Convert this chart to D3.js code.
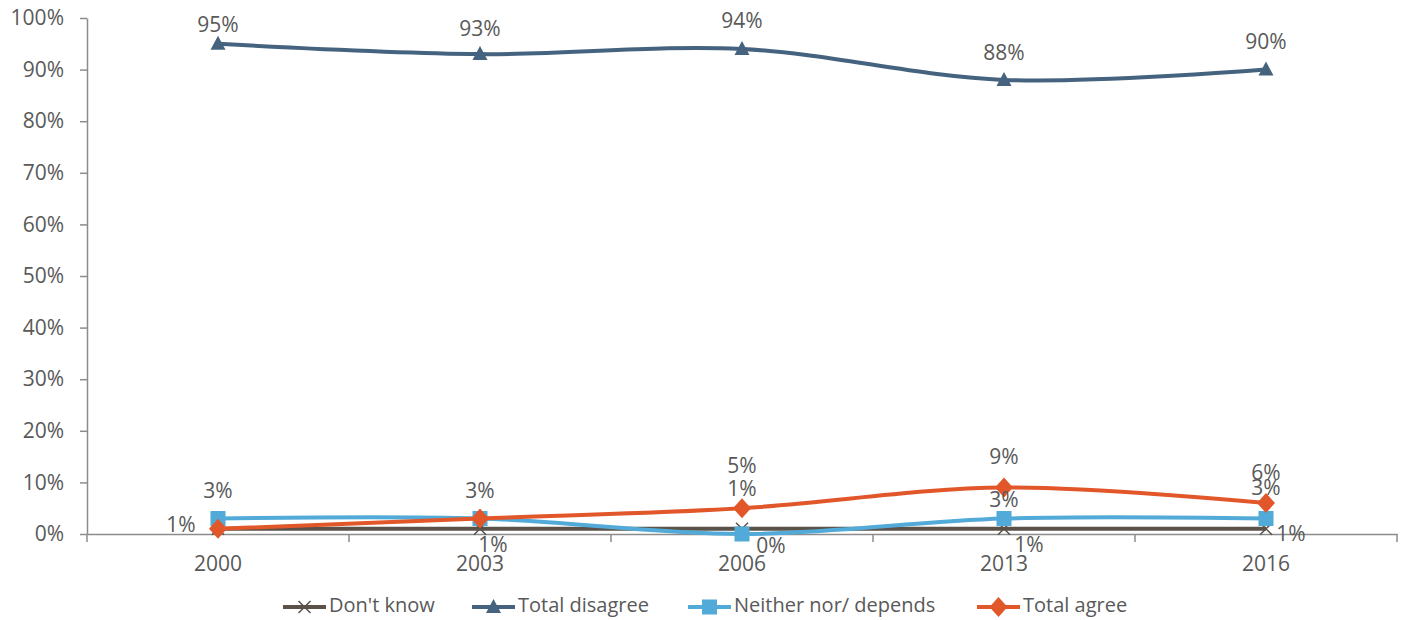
<!DOCTYPE html>
<html><head><meta charset="utf-8">
<script src="https://cdn.jsdelivr.net/npm/d3@7"></script>
<style>body{margin:0;background:#fff}svg{display:block}text{font-family:"Open Sans",Lato,sans-serif;fill:#595959}</style>
</head><body><svg id="c" width="1411" height="620"></svg>
<script>
const years = ["2000","2003","2006","2013","2016"];
const yTicks = [0,10,20,30,40,50,60,70,80,90,100];
const dontKnow = [1,1,1,1,1];
const totalDisagree = [95,93,94,88,90];
const neither = [3,3,0,3,3];
const totalAgree = [1,3,5,9,6];
const seriesNames = ["Don't know","Total disagree","Neither nor/ depends","Total agree"];
const seriesColors = ["#5a5148","#45637f","#52aad8","#e1572a"];
const seriesMarkers = ["x","triangle","square","diamond"];
const labelOffsets = [
  [[-37,-2],[13,18],[0,-38],[25,18],[25,7]],
  [[0,-17],[0,-24],[0,-27],[0,-26],[0,-26]],
  [[0,-26],[0,-26],[29,13],[0,-17],[0,-29]],
  [[0,0],[0,0],[0,-41],[0,-29],[0,-29]]
];
const showLabel = [
  [1,1,1,1,1],[1,1,1,1,1],[1,1,1,1,1],[0,0,1,1,1]
];
const data = [dontKnow,totalDisagree,neither,totalAgree];

const svg = d3.select("#c");
const FONT = "'Open Sans',Lato,sans-serif";
const FS = 21;
const m = {l:87, r:1397, t:18, b:534};
const x = d3.scaleBand().domain(years).range([m.l,m.r]);
const y = d3.scaleLinear().domain([0,100]).range([m.b,m.t]);
const cx = d => x(d)+x.bandwidth()/2;

const ya = svg.append("g").attr("transform",`translate(${m.l},0)`)
  .call(d3.axisLeft(y).tickValues(yTicks).tickFormat(d=>d+"%").tickSize(7).tickSizeOuter(0));
ya.select(".domain").attr("stroke","#8c8c8c").attr("stroke-width",1.5);
ya.selectAll(".tick line").attr("stroke","#8c8c8c").attr("stroke-width",1.5);
ya.selectAll(".tick text").attr("font-size",FS).attr("dx",-13).style("font-family",FONT).attr("fill","#595959");

const xa = svg.append("g").attr("transform",`translate(0,${m.b})`)
  .call(d3.axisBottom(x).tickSize(0).tickSizeOuter(0));
xa.select(".domain").attr("stroke","#8c8c8c").attr("stroke-width",1.5);
xa.selectAll(".tick text").attr("font-size",FS).attr("dy",34).style("font-family",FONT).attr("fill","#595959");
const bounds = years.map(d=>x(d)).concat([m.r]);
svg.append("g").selectAll("line").data(bounds).join("line")
  .attr("x1",d=>d).attr("x2",d=>d).attr("y1",m.b).attr("y2",m.b+8)
  .attr("stroke","#8c8c8c").attr("stroke-width",1.5);

const line = d3.line().x((d,i)=>cx(years[i])).y(d=>y(d)).curve(d3.curveCatmullRom.alpha(0.5));

function marker(g, type, color, px, py){
  if(type==="x"){
    g.append("path").attr("d",`M${px-6},${py-6}L${px+6},${py+6}M${px-6},${py+6}L${px+6},${py-6}`)
      .attr("stroke",color).attr("stroke-width",1.5).attr("fill","none");
  } else if(type==="triangle"){
    g.append("path").attr("d",`M${px},${py-8}L${px+7.5},${py+6}L${px-7.5},${py+6}Z`).attr("fill",color);
  } else if(type==="square"){
    g.append("rect").attr("x",px-7.5).attr("y",py-7.5).attr("width",15).attr("height",15).attr("fill",color);
  } else {
    g.append("path").attr("d",`M${px},${py-10}L${px+9},${py}L${px},${py+10}L${px-9},${py}Z`).attr("fill",color);
  }
}

[0,1,2,3].forEach(si=>{
  const g = svg.append("g");
  g.append("path").attr("d",line(data[si])).attr("fill","none")
    .attr("stroke",seriesColors[si]).attr("stroke-width",4);
  data[si].forEach((v,i)=>marker(g,seriesMarkers[si],seriesColors[si],cx(years[i]),y(v)));
});
[0,1,2,3].forEach(si=>{
  data[si].forEach((v,i)=>{
    if(!showLabel[si][i]) return;
    const o = labelOffsets[si][i];
    svg.append("text").attr("x",cx(years[i])+o[0]).attr("y",y(v)+o[1])
      .attr("text-anchor","middle").attr("dominant-baseline","middle")
      .attr("font-size",FS).text(v+"%");
  });
});

const legStarts = [283,472,688,977];
const ly = 607;
seriesNames.forEach((n,si)=>{
  const g = svg.append("g");
  const lx = legStarts[si];
  g.append("line").attr("x1",lx).attr("x2",lx+43).attr("y1",ly).attr("y2",ly)
    .attr("stroke",seriesColors[si]).attr("stroke-width",4);
  marker(g,seriesMarkers[si],seriesColors[si],lx+21.5,ly);
  g.append("text").attr("x",lx+46).attr("y",ly).attr("dominant-baseline","middle")
    .attr("font-size",20).text(n);
});
</script></body></html>
